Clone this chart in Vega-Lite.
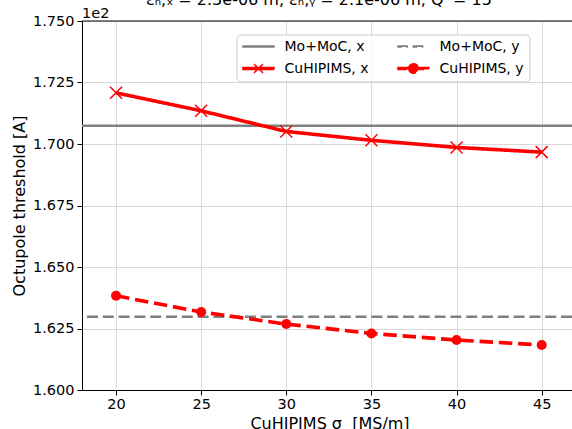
{
  "$schema": "https://vega.github.io/schema/vega-lite/v6.json",
  "autosize": {"type": "none"},
  "padding": {"left": 82, "top": 21, "right": 0, "bottom": 39},
  "width": 490,
  "height": 369,
  "background": "white",
  "config": {
    "font": "DejaVu Sans",
    "view": {"stroke": null},
    "axis": {
      "domainColor": "#000000",
      "domainWidth": 1,
      "tickColor": "#000000",
      "tickSize": 5,
      "tickWidth": 1,
      "labelColor": "#000000",
      "labelFontSize": 14.5,
      "titleColor": "#000000",
      "titleFontSize": 16,
      "titleFontWeight": "normal",
      "gridColor": "#d9d9d9",
      "gridWidth": 1
    }
  },
  "title": {
    "text": "εₙ,ₓ = 2.3e-06 m, εₙ,ᵧ = 2.1e-06 m, Q' = 15",
    "fontSize": 16,
    "fontWeight": "normal",
    "color": "#000000",
    "anchor": "middle",
    "frame": "group",
    "dx": -8,
    "offset": -2
  },
  "datasets": {
    "cu": [
      {"sigma": 20, "threshold": 172.08, "series": "CuHIPIMS, x"},
      {"sigma": 25, "threshold": 171.35, "series": "CuHIPIMS, x"},
      {"sigma": 30, "threshold": 170.51, "series": "CuHIPIMS, x"},
      {"sigma": 35, "threshold": 170.15, "series": "CuHIPIMS, x"},
      {"sigma": 40, "threshold": 169.86, "series": "CuHIPIMS, x"},
      {"sigma": 45, "threshold": 169.67, "series": "CuHIPIMS, x"},
      {"sigma": 20, "threshold": 163.83, "series": "CuHIPIMS, y"},
      {"sigma": 25, "threshold": 163.17, "series": "CuHIPIMS, y"},
      {"sigma": 30, "threshold": 162.68, "series": "CuHIPIMS, y"},
      {"sigma": 35, "threshold": 162.30, "series": "CuHIPIMS, y"},
      {"sigma": 40, "threshold": 162.03, "series": "CuHIPIMS, y"},
      {"sigma": 45, "threshold": 161.83, "series": "CuHIPIMS, y"}
    ],
    "mo": [
      {"threshold": 170.74, "series": "Mo+MoC, x"},
      {"threshold": 162.98, "series": "Mo+MoC, y"}
    ],
    "one": [{}]
  },
  "layer": [
    {
      "data": {"name": "mo"},
      "mark": {"type": "rule", "strokeWidth": 2.6},
      "encoding": {
        "y": {
          "field": "threshold",
          "type": "quantitative",
          "scale": {"domain": [160, 175], "nice": false, "zero": false},
          "axis": {
            "values": [160, 162.5, 165, 167.5, 170, 172.5, 175],
            "labelExpr": "format(datum.value / 100, '.3f')",
            "labelPadding": 3,
            "title": "Octupole threshold [A]",
            "titleX": -63,
            "titleBaseline": "middle"
          }
        },
        "color": {
          "field": "series",
          "type": "nominal",
          "scale": {
            "domain": ["Mo+MoC, x", "Mo+MoC, y", "CuHIPIMS, x", "CuHIPIMS, y"],
            "range": ["#808080", "#808080", "#ff0000", "#ff0000"]
          },
          "legend": {
            "title": null,
            "orient": "none",
            "direction": "horizontal",
            "legendX": 154.5,
            "legendY": 13.5,
            "columns": 2,
            "columnPadding": 25,
            "rowPadding": 7,
            "padding": 5,
            "symbolSize": 121,
            "labelOffset": 29,
            "labelFontSize": 14,
            "labelColor": "#000000",
            "fillColor": "rgba(255,255,255,0.8)",
            "strokeColor": "#cccccc",
            "cornerRadius": 4,
            "encode": {
              "symbols": {
                "update": {
                  "shape": {"signal": "datum.value === 'Mo+MoC, x' ? 'M-1,-0.091H4.636V0.091H-1Z' : datum.value === 'Mo+MoC, y' ? 'M-1,-0.091H0.691V0.091H-1ZM1.782,-0.091H3.473V0.091H1.782Z' : datum.value === 'CuHIPIMS, x' ? 'M-1,-0.182H4.636V0.182H-1ZM1,-0.818L2.636,0.818M1,0.818L2.636,-0.818' : 'M-1,-0.182H1.364V0.182H-1ZM2.382,-0.182H4.636V0.182H2.382ZM0.954,0A0.864,0.864 0 1 1 2.682,0A0.864,0.864 0 1 1 0.954,0Z'"},
                  "fill": {"signal": "indexof(datum.value, 'Mo') === 0 ? '#808080' : '#ff0000'"},
                  "stroke": {"signal": "indexof(datum.value, 'Mo') === 0 ? '#808080' : '#ff0000'"},
                  "strokeWidth": {"value": 1.5},
                  "strokeDash": {"value": [1, 0]},
                  "opacity": {"value": 1},
                  "fillOpacity": {"value": 1}
                }
              }
            }
          }
        },
        "strokeDash": {
          "field": "series",
          "type": "nominal",
          "scale": {
            "domain": ["Mo+MoC, x", "Mo+MoC, y", "CuHIPIMS, x", "CuHIPIMS, y"],
            "range": [[1, 0], [11, 4.8], [1, 0], [13.5, 5.8]]
          },
          "legend": null
        }
      }
    },
    {
      "data": {"name": "cu"},
      "mark": {"type": "line", "strokeWidth": 3.6},
      "encoding": {
        "x": {
          "field": "sigma",
          "type": "quantitative",
          "scale": {"domain": [18, 46.78], "nice": false, "zero": false},
          "axis": {
            "values": [20, 25, 30, 35, 40, 45],
            "format": "d",
            "labelPadding": 2,
            "title": "CuHIPIMS σ\u00a0 [MS/m]",
            "titleX": 247.5,
            "titleY": 38,
            "titleBaseline": "alphabetic",
            "titleAlign": "center"
          }
        },
        "y": {"field": "threshold", "type": "quantitative"},
        "color": {"field": "series", "type": "nominal"},
        "strokeDash": {"field": "series", "type": "nominal", "legend": null}
      }
    },
    {
      "data": {"name": "cu"},
      "transform": [{"filter": "datum.series === 'CuHIPIMS, x'"}],
      "mark": {"type": "point", "shape": "M-1,-1L1,1M-1,1L1,-1", "size": 144, "filled": false, "color": "#ff0000", "strokeWidth": 1.5, "opacity": 1},
      "encoding": {
        "x": {"field": "sigma", "type": "quantitative"},
        "y": {"field": "threshold", "type": "quantitative"}
      }
    },
    {
      "data": {"name": "cu"},
      "transform": [{"filter": "datum.series === 'CuHIPIMS, y'"}],
      "mark": {"type": "point", "shape": "circle", "size": 100, "filled": true, "color": "#ff0000", "opacity": 1},
      "encoding": {
        "x": {"field": "sigma", "type": "quantitative"},
        "y": {"field": "threshold", "type": "quantitative"}
      }
    },
    {
      "data": {"name": "one"},
      "mark": {"type": "rule", "color": "#000000", "strokeWidth": 1},
      "encoding": {"y": {"datum": 175}}
    },
    {
      "data": {"name": "one"},
      "mark": {"type": "text", "text": "1e2", "align": "left", "baseline": "alphabetic", "dy": -3, "fontSize": 14.5, "color": "#000000"},
      "encoding": {"x": {"datum": 18}, "y": {"datum": 175}}
    }
  ]
}
